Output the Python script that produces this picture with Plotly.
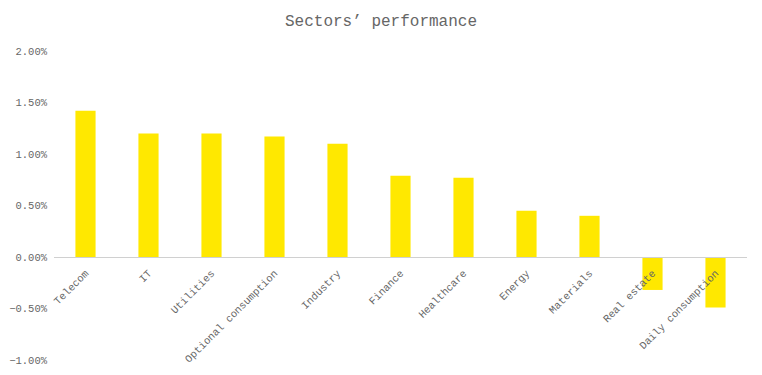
import plotly.graph_objects as go

categories = ["Telecom", "IT", "Utilities", "Optional consumption", "Industry",
              "Finance", "Healthcare", "Energy", "Materials", "Real estate",
              "Daily consumption"]
values_pct = [1.42, 1.20, 1.20, 1.17, 1.10, 0.79, 0.77, 0.45, 0.40, -0.32, -0.49]
values = [v / 100 for v in values_pct]
ytick_vals = [-0.01, -0.005, 0, 0.005, 0.01, 0.015, 0.02]

FONT = "Liberation Mono, DejaVu Sans Mono, monospace"

fig = go.Figure()
fig.add_trace(go.Bar(
    x=categories, y=values,
    marker=dict(color="#FFE800", line=dict(width=0)),
    width=0.32,
))

fig.update_layout(
    width=762, height=375,
    margin=dict(l=54, r=15, t=51, b=15, autoexpand=False),
    paper_bgcolor="white", plot_bgcolor="white",
    showlegend=False,
    title=dict(text="Sectors’ performance", x=0.5, xanchor="center",
               y=1 - 20 / 375, yanchor="middle",
               font=dict(family=FONT, size=16, color="#666")),
    font=dict(family=FONT, size=10, color="#666"),
)
fig.update_xaxes(
    anchor="free", position=1 / 3, automargin=False,
    showline=True, linecolor="#d0d0d0", linewidth=1,
    showgrid=False, ticks="", tickangle=-45, ticklabelstandoff=5,
    tickfont=dict(family=FONT, size=10.5, color="#666"),
    fixedrange=True,
)
fig.update_yaxes(
    range=[-0.01, 0.02], tickvals=ytick_vals, tickformat=".2%",
    automargin=False, ticklabelstandoff=6,
    showgrid=False, zeroline=False, showline=False, ticks="",
    tickfont=dict(family=FONT, size=10.5, color="#666"),
    fixedrange=True,
)

fig.write_html(
    "out.html",
    config={"displayModeBar": False},
    post_script="document.body.style.margin='0';document.body.style.overflow='hidden';",
)
